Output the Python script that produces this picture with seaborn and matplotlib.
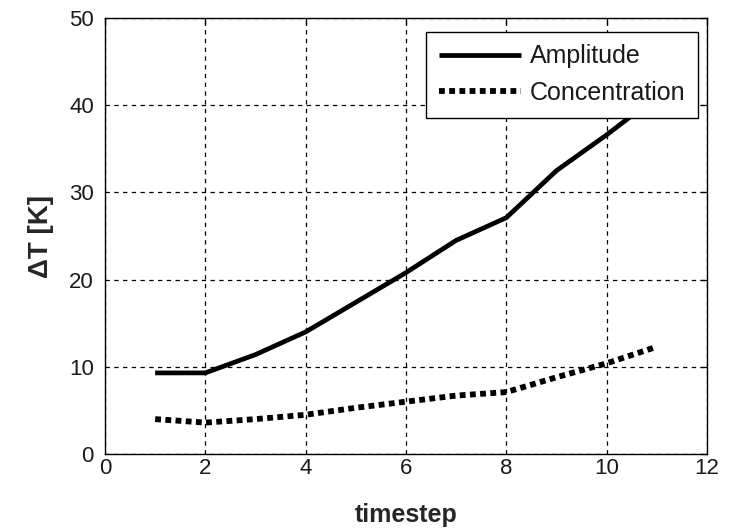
import matplotlib
matplotlib.use("Agg")
import matplotlib.pyplot as plt
import seaborn as sns
import pandas as pd

timestep = [1, 2, 3, 4, 5, 6, 7, 8, 9, 10, 11]
amplitude = [9.3, 9.3, 11.4, 14.0, 17.4, 20.8, 24.5, 27.1, 32.5, 36.6, 41.0]
concentration = [4.0, 3.6, 4.0, 4.5, 5.3, 6.0, 6.7, 7.1, 8.8, 10.4, 12.3]
series_names = ["Amplitude", "Concentration"]
x_ticks = [0, 2, 4, 6, 8, 10, 12]
y_ticks = [0, 10, 20, 30, 40, 50]

sns.set_style("white")
plt.rcParams['font.family'] = ['Liberation Sans', 'DejaVu Sans']

df = pd.DataFrame({
    "timestep": timestep * 2,
    "value": amplitude + concentration,
    "series": [series_names[0]] * len(timestep) + [series_names[1]] * len(timestep),
})

fig = plt.figure(figsize=(7.36, 5.32), dpi=100)
ax = fig.add_axes([105 / 736, 78 / 532, 602 / 736, 436 / 532])

sns.lineplot(data=df, x="timestep", y="value", hue="series", style="series",
             palette=["black", "black"], dashes=[(None, None), (1, 1)],
             ax=ax, legend=False)
lines = ax.get_lines()
lines[0].set_linewidth(3.4)
lines[0].set_linestyle("-")
lines[1].set_linewidth(4.2)
lines[1].set_linestyle((0, (1.0, 0.75)))
lines[1].set_dash_capstyle("butt")
for ln in lines:
    ln.set_solid_capstyle("butt")

ax.set_xlim(0, 12)
ax.set_ylim(0, 50)
ax.set_xticks(x_ticks)
ax.set_yticks(y_ticks)
ax.tick_params(direction="in", top=True, right=True, length=5, width=0.9,
               labelsize=16, colors="black", labelcolor="#1a1a1a")
ax.tick_params(axis="x", pad=3)
ax.tick_params(axis="y", pad=8)
ax.grid(True, color="black", linestyle=(0, (3.5, 3.5)), linewidth=0.9)
for s in ax.spines.values():
    s.set_color("black")
    s.set_linewidth(1.0)

ax.set_xlabel("timestep", fontsize=18, fontweight="bold", labelpad=17)
ax.set_ylabel("ΔT [K]", fontsize=20, fontweight="bold", labelpad=11)

leg = ax.legend(lines, series_names, loc="upper right",
                bbox_to_anchor=(698 / 736, (532 - 32) / 532),
                bbox_transform=fig.transFigure, fontsize=18,
                frameon=True, fancybox=False, edgecolor="black",
                handlelength=3.3, borderpad=0.5, labelspacing=0.5,
                handletextpad=0.35, borderaxespad=0.0)
leg.get_frame().set_linewidth(1.0)
leg.get_frame().set_alpha(1)
for t in leg.get_texts():
    t.set_color("#1a1a1a")

fig.savefig("out.png", dpi=100)
